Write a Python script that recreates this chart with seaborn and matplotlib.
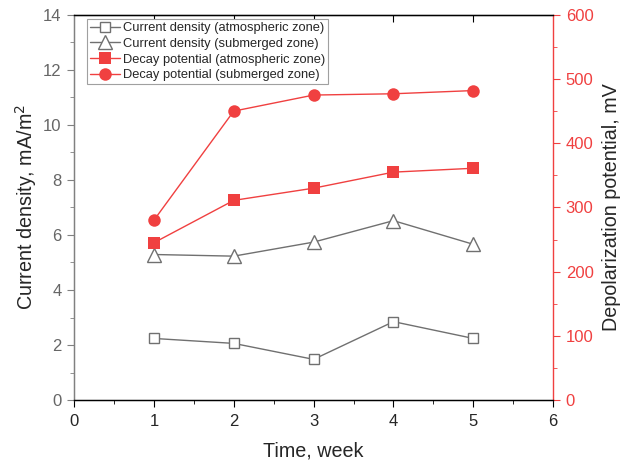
import matplotlib
matplotlib.use("Agg")
import matplotlib.pyplot as plt
import seaborn as sns
from matplotlib.ticker import MultipleLocator

sns.set_style("ticks")
plt.rcParams['font.family'] = ['Liberation Sans', 'DejaVu Sans']

weeks = [1, 2, 3, 4, 5]
cd_atm = [2.24, 2.06, 1.48, 2.85, 2.24]
cd_sub = [5.29, 5.23, 5.74, 6.52, 5.66]
dp_atm = [245, 311, 330, 355, 361]
dp_sub = [280, 450, 475, 477, 482]

labels = ["Current density (atmospheric zone)",
          "Current density (submerged zone)",
          "Decay potential (atmospheric zone)",
          "Decay potential (submerged zone)"]

RED = '#F04040'
GRAY = '#707070'
LGRAY = '#808080'

fig = plt.figure(figsize=(6.24, 4.62), dpi=100)
ax = fig.add_axes([0.1186, 0.134, 0.768, 0.834])
ax2 = ax.twinx()

sns.lineplot(x=weeks, y=cd_atm, ax=ax, color=GRAY, lw=1.0, marker='s', ms=7.5,
             markerfacecolor='white', markeredgecolor=GRAY, mew=1.0, label=labels[0], legend=False)
sns.lineplot(x=weeks, y=cd_sub, ax=ax, color=GRAY, lw=1.0, marker='^', ms=9.5,
             markerfacecolor='white', markeredgecolor=GRAY, mew=1.0, label=labels[1], legend=False)
sns.lineplot(x=weeks, y=dp_atm, ax=ax2, color=RED, lw=1.0, marker='s', ms=8.5,
             markerfacecolor=RED, markeredgecolor=RED, mew=0, label=labels[2], legend=False)
sns.lineplot(x=weeks, y=dp_sub, ax=ax2, color=RED, lw=1.0, marker='o', ms=9,
             markerfacecolor=RED, markeredgecolor=RED, mew=0, label=labels[3], legend=False)

ax.set_xlim(0, 6)
ax.set_ylim(0, 14)
ax2.set_ylim(0, 600)
ax.xaxis.set_major_locator(MultipleLocator(1))
ax.xaxis.set_minor_locator(MultipleLocator(0.5))
ax.yaxis.set_major_locator(MultipleLocator(2))
ax.yaxis.set_minor_locator(MultipleLocator(1))
ax2.yaxis.set_major_locator(MultipleLocator(100))
ax2.yaxis.set_minor_locator(MultipleLocator(50))

ax.set_xlabel("Time, week", fontsize=14.2, labelpad=9)
ax.set_ylabel("Current density, mA/m$^2$", fontsize=14.2, labelpad=2.5)
ax2.set_ylabel("Depolarization potential, mV", fontsize=14.2, labelpad=6)

for sp in ['top', 'bottom']:
    ax2.spines[sp].set_color('black')
ax2.spines['left'].set_color(LGRAY)
ax2.spines['right'].set_color(RED)
ax.spines['left'].set_color(LGRAY)
ax.spines['right'].set_visible(False)
for sp in ax2.spines.values():
    sp.set_linewidth(1.0)

ax.tick_params(axis='x', which='major', direction='out', length=5, pad=5,
               labelsize=12, color='black', top=False)
ax.tick_params(axis='x', which='minor', direction='out', length=3, color='black', top=False)
ax.tick_params(axis='y', which='major', direction='out', length=5, pad=4, labelsize=12,
               color=LGRAY, labelcolor='#666666')
ax.tick_params(axis='y', which='minor', direction='out', length=3, color=LGRAY)
ax2.tick_params(axis='y', which='major', direction='out', length=5, pad=4, labelsize=12,
                color=RED, labelcolor=RED)
ax2.tick_params(axis='y', which='minor', direction='out', length=3, color=RED)

# top ticks pointing inward at the major positions
ax_top = ax.secondary_xaxis('top')
ax_top.set_xticks([1, 2, 3, 4, 5])
ax_top.tick_params(direction='in', length=5, labeltop=False, color='black')
ax_top.spines['top'].set_color('black')

h1, l1 = ax.get_legend_handles_labels()
h2, l2 = ax2.get_legend_handles_labels()
leg = ax2.legend(h1 + h2, l1 + l2, loc='upper left', fontsize=9.3, frameon=True,
                 fancybox=False, edgecolor='#A0A0A0', framealpha=1,
                 bbox_to_anchor=(0.0265, 0.989), borderpad=0.25, labelspacing=0.28,
                 handlelength=2.3, handletextpad=0.25, borderaxespad=0.0)
leg.get_frame().set_linewidth(0.8)

fig.savefig("out.png", dpi=100)
